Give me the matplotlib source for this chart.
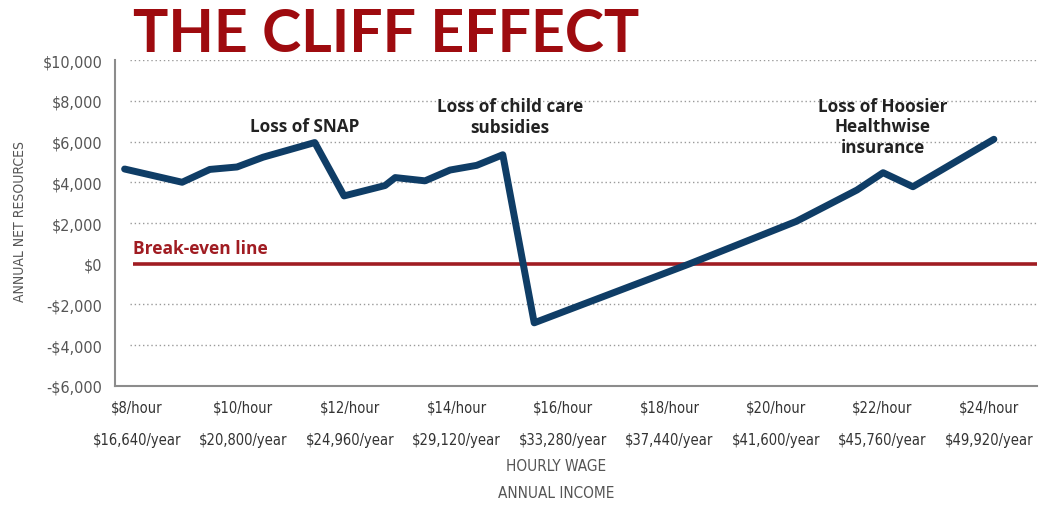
import matplotlib
matplotlib.use("Agg")
import matplotlib.pyplot as plt

# line: hourly wage vs annual net resources
wage = [7.77, 8.85, 9.37, 9.88, 10.37, 11.34, 11.89, 12.66, 12.85, 13.41,
        13.88, 14.38, 14.87, 15.46, 18.38, 20.38, 21.52, 22.01, 22.57, 24.09]
net = [4650, 4000, 4630, 4750, 5230, 5950, 3330, 3840, 4230, 4070,
       4600, 4830, 5350, -2900, 0, 2080, 3620, 4470, 3780, 6110]

tick_wages = [8, 10, 12, 14, 16, 18, 20, 22, 24]
hour_labels = ["$8/hour", "$10/hour", "$12/hour", "$14/hour", "$16/hour",
               "$18/hour", "$20/hour", "$22/hour", "$24/hour"]
year_labels = ["$16,640/year", "$20,800/year", "$24,960/year", "$29,120/year",
               "$33,280/year", "$37,440/year", "$41,600/year", "$45,760/year",
               "$49,920/year"]
y_ticks = [-6000, -4000, -2000, 0, 2000, 4000, 6000, 8000, 10000]
y_labels = ["-$6,000", "-$4,000", "-$2,000", "$0", "$2,000", "$4,000",
            "$6,000", "$8,000", "$10,000"]

notes = [("Loss of SNAP", 11.15, 6740),
         ("Loss of child care\nsubsidies", 15.0, 7230),
         ("Loss of Hoosier\nHealthwise\ninsurance", 22.0, 6740)]

narrow = dict(family="DejaVu Sans", stretch="condensed")
bold = dict(family="Open Sans", fontweight="bold", stretch="normal")
title_font = dict(family="Lato", fontweight="bold")
navy = "#0f3d66"
red = "#a01c22"
grey = "#555555"

fig = plt.figure(figsize=(10.39, 5.06), dpi=100)
ax = fig.add_axes([0.1107, 0.2352, 0.8874, 0.6442])

x0, x1 = 7.59, 24.9
ax.set_xlim(x0, x1)
ax.set_ylim(-6000, 10000)

for y in y_ticks:
    if y in (-6000, 0):
        continue
    ax.hlines(y, 7.87, x1, colors="#9a9a9a", linewidth=1.0,
              linestyles=(0, (1, 2)), zorder=1)
ax.hlines(0, 7.92, x1, colors=red, linewidth=2.6, zorder=2)

ax.plot(wage, net, color=navy, linewidth=5, solid_joinstyle="round",
        solid_capstyle="round", zorder=3)

for s in ["top", "right"]:
    ax.spines[s].set_visible(False)
for s in ["left", "bottom"]:
    ax.spines[s].set_color("#8c8c8c")
    ax.spines[s].set_linewidth(1.5)

ax.set_yticks(y_ticks)
ax.set_yticklabels(y_labels, fontsize=11.5, color=grey, **narrow)
ax.set_xticks(tick_wages)
ax.set_xticklabels([h + "\n" + yl for h, yl in zip(hour_labels, year_labels)],
                   fontsize=10.5, color="#333333", linespacing=2.45, **narrow)
ax.tick_params(axis="both", length=0)
ax.tick_params(axis="x", pad=10)
ax.tick_params(axis="y", pad=9)

for text, x, y in notes:
    ax.text(x, y, text, ha="center", va="center", fontsize=12.3,
            color="#222222", linespacing=1.2, **bold)

ax.text(7.92, 760, "Break-even line", ha="left", va="center", fontsize=12.5,
        color=red, **bold)

fig.text(133 / 1039, 1 - 35 / 506, "THE CLIFF EFFECT", ha="left", va="center",
         fontsize=42.5, color="#9e0b0f", **title_font)

fig.text(556 / 1039, 1 - 467 / 506, "HOURLY WAGE", ha="center", va="center",
         fontsize=11, color=grey, **narrow)
fig.text(556 / 1039, 1 - 494 / 506, "ANNUAL INCOME", ha="center", va="center",
         fontsize=11, color=grey, **narrow)
fig.text(20 / 1039, 1 - 222 / 506, "ANNUAL NET RESOURCES", ha="center",
         va="center", rotation=90, fontsize=10, color=grey, **narrow)

fig.savefig("out.png", dpi=100)
